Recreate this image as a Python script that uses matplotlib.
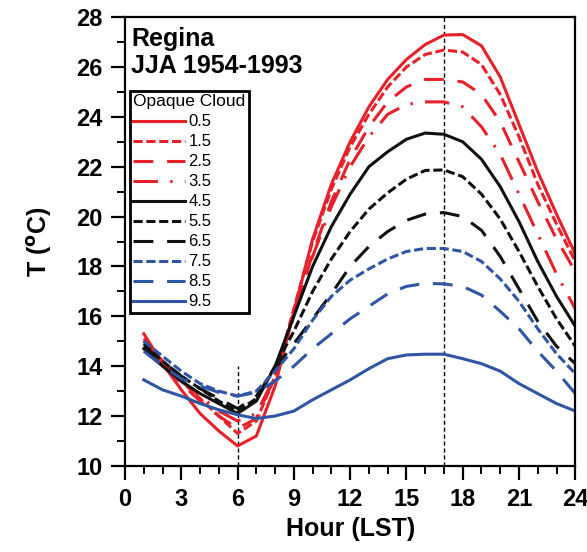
import matplotlib
matplotlib.use("Agg")
import matplotlib.pyplot as plt
from matplotlib.ticker import MultipleLocator

plt.rcParams["font.family"] = ["Liberation Sans", "DejaVu Sans"]

# --- data: mean JJA temperature by hour, per opaque cloud class ---
hours = list(range(1, 25))
cloud_labels = ["0.5", "1.5", "2.5", "3.5", "4.5", "5.5", "6.5", "7.5", "8.5", "9.5"]

t_05 = [15.3, 14.1, 13.05, 12.1, 11.4, 10.8, 11.2, 13.2, 16.2, 19.1, 21.3, 23.0,
        24.4, 25.5, 26.3, 26.9, 27.28, 27.3, 26.85, 25.6, 23.7, 21.8, 20.1, 18.5]
t_15 = [15.1, 14.2, 13.4, 12.7, 12.0, 11.3, 11.8, 13.6, 16.3, 19.0, 21.1, 22.8,
        24.1, 25.2, 26.0, 26.5, 26.68, 26.6, 26.1, 24.9, 23.2, 21.3, 19.7, 18.2]
t_25 = [15.0, 14.1, 13.3, 12.6, 12.0, 11.5, 11.9, 13.6, 16.1, 18.5, 20.6, 22.3,
        23.6, 24.6, 25.2, 25.5, 25.5, 25.4, 24.9, 23.8, 22.2, 20.6, 19.1, 17.8]
t_35 = [15.0, 14.2, 13.4, 12.8, 12.2, 11.8, 12.1, 13.6, 16.0, 18.4, 20.4, 22.0,
        23.2, 24.1, 24.5, 24.6, 24.6, 24.4, 23.6, 22.5, 20.9, 19.3, 17.7, 16.3]
t_45 = [14.7, 14.0, 13.4, 12.9, 12.5, 12.1, 12.6, 14.0, 16.0, 18.0, 19.6, 20.9,
        22.0, 22.6, 23.1, 23.35, 23.3, 23.0, 22.3, 21.2, 19.8, 18.2, 16.8, 15.6]
t_55 = [14.9, 14.2, 13.6, 13.1, 12.6, 12.2, 12.7, 14.0, 15.4, 17.0, 18.3, 19.4,
        20.3, 20.95, 21.5, 21.85, 21.87, 21.6, 20.9, 19.9, 18.6, 17.2, 15.9, 14.8]
t_65 = [14.8, 14.2, 13.6, 13.1, 12.7, 12.3, 12.8, 13.9, 14.9, 15.9, 16.9, 18.0,
        18.8, 19.4, 19.85, 20.1, 20.16, 20.0, 19.45, 18.4, 17.1, 15.8, 14.8, 14.1]
t_75 = [15.0, 14.4, 13.8, 13.3, 13.0, 12.8, 13.0, 13.8, 14.7, 15.85, 16.8, 17.45,
        17.9, 18.3, 18.6, 18.72, 18.72, 18.6, 18.2, 17.5, 16.6, 15.5, 14.5, 13.7]
t_85 = [14.6, 14.0, 13.5, 13.2, 12.95, 12.8, 12.95, 13.4, 14.0, 14.7, 15.3, 15.9,
        16.4, 16.9, 17.2, 17.32, 17.3, 17.2, 16.85, 16.2, 15.5, 14.6, 13.8, 12.9]
t_95 = [13.45, 13.05, 12.8, 12.5, 12.25, 12.05, 11.9, 12.0, 12.2, 12.65, 13.05, 13.45,
        13.9, 14.3, 14.45, 14.48, 14.48, 14.3, 14.1, 13.8, 13.3, 12.9, 12.5, 12.2]

series = [t_05, t_15, t_25, t_35, t_45, t_55, t_65, t_75, t_85, t_95]

# reference lines (time of min / max)
ref_hours = [6, 17]
ref_tops = [14.0, 28.0]

# --- styles ---
RED = "#e8202a"
BLACK = "#111111"
BLUE = "#2f55a4"
SOLID = "-"
SHORT = (0, (3.0, 1.2))
LONG = (0, (6.5, 4.5))
LONG_DOT = (0, (8.0, 4.0, 0.8, 4.0))
colors = [RED, RED, RED, RED, BLACK, BLACK, BLACK, BLUE, BLUE, BLUE]
styles = [SOLID, SHORT, LONG, LONG_DOT, SOLID, SHORT, LONG, SHORT, LONG, SOLID]

fig = plt.figure(figsize=(5.87, 5.52), dpi=100)
ax = fig.add_axes([0.213, 0.156, 0.767, 0.813])

for vals, lab, col, ls in zip(series, cloud_labels, colors, styles):
    ax.plot(hours, vals, color=col, linestyle=ls, linewidth=2.2, label=lab,
            dash_capstyle="butt")

for h, top in zip(ref_hours, ref_tops):
    ax.plot([h, h], [10, top], color="black", linestyle=(0, (3, 2)),
            linewidth=1.0, zorder=1)

ax.set_xlim(0, 24)
ax.set_ylim(10, 28)
ax.xaxis.set_major_locator(MultipleLocator(3))
ax.xaxis.set_minor_locator(MultipleLocator(1))
ax.yaxis.set_major_locator(MultipleLocator(2))
ax.yaxis.set_minor_locator(MultipleLocator(1))
ax.tick_params(which="major", direction="out", length=10, width=1.6,
               labelsize=17, pad=6)
ax.tick_params(which="minor", direction="out", length=6, width=1.4)
for lbl in ax.get_xticklabels() + ax.get_yticklabels():
    lbl.set_fontweight("bold")
for sp in ax.spines.values():
    sp.set_linewidth(1.6)

ax.set_xlabel("Hour (LST)", fontsize=18, fontweight="bold", labelpad=4)
ax.set_ylabel(r"T ($\mathbf{^{o}}$C)", fontsize=18, fontweight="bold", labelpad=16)

ax.text(0.013, 0.978, "Regina\nJJA 1954-1993", transform=ax.transAxes,
        fontsize=18, fontweight="bold", va="top", ha="left", linespacing=1.15)

leg = ax.legend(title="Opaque Cloud", loc="upper left",
                bbox_to_anchor=(0.011, 0.835), fontsize=12, title_fontsize=12.5,
                handlelength=3.1, handletextpad=0.2, labelspacing=0.3,
                borderpad=0.2, borderaxespad=0.0, fancybox=False,
                framealpha=1, edgecolor="black")
leg.get_frame().set_linewidth(2.0)
leg._legend_box.align = "left"

fig.savefig("out.png", dpi=100)
